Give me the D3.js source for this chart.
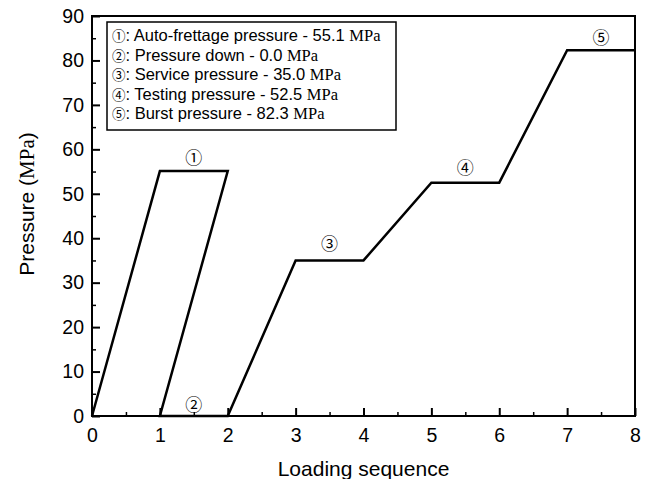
<!DOCTYPE html>
<html>
<head>
<meta charset="utf-8">
<script src="https://cdn.jsdelivr.net/npm/d3@7"></script>
<style>
  body { margin: 0; background: #fff; }
  text { font-family: "Liberation Sans", Arial, sans-serif; fill: #000; }
  .serif { font-family: "Liberation Serif", "Times New Roman", serif; }
  .circ { font-family: "Noto Sans CJK JP", "DejaVu Sans", sans-serif; }
</style>
</head>
<body>
<div id="chart"></div>
<script>
// loading path (x = loading step, y = pressure in MPa)
const seqX = [0, 1, 2, 1, 2, 3, 4, 5, 6, 7, 8];
const seqY = [0, 55.1, 55.1, 0, 0, 35.0, 35.0, 52.5, 52.5, 82.3, 82.3];

// circled step markers
const markLabels = ["\u2460", "\u2461", "\u2462", "\u2463", "\u2464"];
const markX = [1.5, 1.5, 3.5, 5.5, 7.5];
const markY = [58.3, 2.9, 39.0, 56.2, 85.3];

// legend entries
const legendNames = ["Auto-frettage pressure", "Pressure down", "Service pressure", "Testing pressure", "Burst pressure"];
const legendValues = ["55.1", "0.0", "35.0", "52.5", "82.3"];

const xTicks = [0, 1, 2, 3, 4, 5, 6, 7, 8];
const yTicks = [0, 10, 20, 30, 40, 50, 60, 70, 80, 90];

const width = 650, height = 479;
const margin = {top: 16, right: 15, bottom: 63, left: 92};

const svg = d3.select("#chart").append("svg")
    .attr("width", width)
    .attr("height", height);

const x = d3.scaleLinear().domain([0, 8]).range([margin.left, width - margin.right]);
const y = d3.scaleLinear().domain([0, 90]).range([height - margin.bottom, margin.top]);

// frame
svg.append("rect")
    .attr("x", x(0)).attr("y", y(90))
    .attr("width", x(8) - x(0)).attr("height", y(0) - y(90))
    .attr("fill", "none").attr("stroke", "#000").attr("stroke-width", 2);

// minor ticks
svg.append("g")
    .attr("transform", "translate(0," + y(0) + ")")
    .call(d3.axisBottom(x).tickValues(d3.range(0.5, 8, 1)).tickSize(-4).tickFormat(""))
    .call(g => g.select(".domain").remove())
    .selectAll("line").attr("stroke-width", 1.5);
svg.append("g")
    .attr("transform", "translate(" + x(0) + ",0)")
    .call(d3.axisLeft(y).tickValues(d3.range(5, 90, 10)).tickSize(-4).tickFormat(""))
    .call(g => g.select(".domain").remove())
    .selectAll("line").attr("stroke-width", 1.5);

// major ticks
const xAxis = svg.append("g")
    .attr("transform", "translate(0," + y(0) + ")")
    .call(d3.axisBottom(x).tickValues(xTicks).tickSize(-8).tickPadding(12).tickFormat(d3.format("d")));
xAxis.select(".domain").remove();
xAxis.selectAll("line").attr("stroke-width", 2);
xAxis.selectAll("text").attr("font-size", 19.5).attr("font-family", "Liberation Sans, Arial, sans-serif");

const yAxis = svg.append("g")
    .attr("transform", "translate(" + x(0) + ",0)")
    .call(d3.axisLeft(y).tickValues(yTicks).tickSize(-8).tickPadding(8).tickFormat(d3.format("d")));
yAxis.select(".domain").remove();
yAxis.selectAll("line").attr("stroke-width", 2);
yAxis.selectAll("text").attr("font-size", 19.5).attr("font-family", "Liberation Sans, Arial, sans-serif");

// loading path
const pts = seqX.map((v, i) => [v, seqY[i]]);
svg.append("path")
    .datum(pts)
    .attr("fill", "none")
    .attr("stroke", "#000")
    .attr("stroke-width", 2.5)
    .attr("stroke-linejoin", "miter")
    .attr("d", d3.line().x(d => x(d[0])).y(d => y(d[1])));

// step markers
svg.selectAll("text.mark")
    .data(markLabels)
    .join("text")
    .attr("class", "mark circ")
    .attr("x", (d, i) => x(markX[i]))
    .attr("y", (d, i) => y(markY[i]))
    .attr("text-anchor", "middle")
    .attr("dominant-baseline", "central")
    .attr("font-size", 17)
    .text(d => d);

// legend
const legend = svg.append("g").attr("class", "legend");
legend.append("rect")
    .attr("x", 107).attr("y", 22)
    .attr("width", 289).attr("height", 108)
    .attr("fill", "#fff").attr("stroke", "#000").attr("stroke-width", 1.5);

legendNames.forEach(function(name, i) {
    const row = legend.append("text")
        .attr("x", 112)
        .attr("y", 41 + i * 19.6)
        .attr("font-size", 16.5);
    row.append("tspan")
        .attr("class", "circ")
        .attr("font-size", 13.5)
        .text(markLabels[i]);
    row.append("tspan").text(": " + name + " - " + legendValues[i] + " ");
    row.append("tspan").attr("class", "serif").text("MPa");
});

// axis titles
svg.append("text")
    .attr("x", x(4))
    .attr("y", 476)
    .attr("text-anchor", "middle")
    .attr("font-size", 21)
    .text("Loading sequence");

const yt = svg.append("text")
    .attr("transform", "translate(34,204) rotate(-90)")
    .attr("text-anchor", "middle")
    .attr("font-size", 21);
yt.append("tspan").text("Pressure (");
yt.append("tspan").attr("class", "serif").text("MPa");
yt.append("tspan").text(")");
</script>
</body>
</html>
